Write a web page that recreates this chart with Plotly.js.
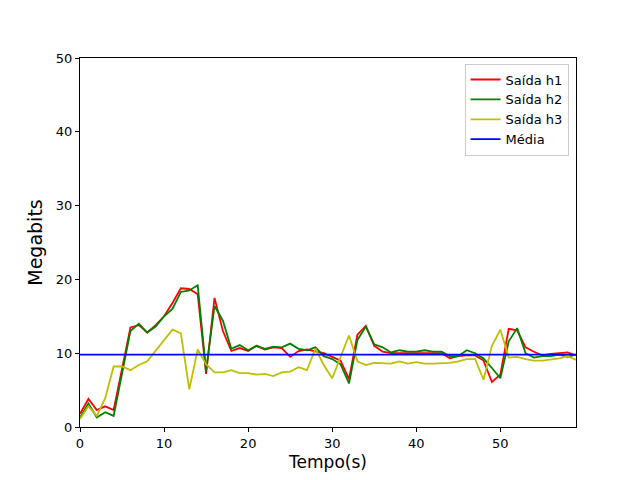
<!DOCTYPE html>
<html>
<head>
<meta charset="utf-8">
<script src="https://cdn.plot.ly/plotly-3.0.1.min.js"></script>
<style>body{margin:0}#grafico{width:640px;height:480px}</style>
</head>
<body>
<div id="grafico"></div>
<script>
const tempo = Array.from({ length: 60 }, (_, i) => i);
const saidaH1 = [1.8,3.8,2.3,2.8,2.3,8,13.5,13.8,12.8,13.8,15,16.8,18.8,18.7,18,7.2,17.5,13,10.3,10.7,10.3,11,10.5,10.8,10.7,9.5,10.3,10.5,10.2,10,9.5,9,6.5,12.5,13.7,11,10.2,10,10,10,10,10,10,10,9.3,9.6,9.7,9.7,9,6.1,7.1,13.3,13.1,10.8,10.2,9.7,9.9,10,10.1,9.7];
const saidaH2 = [1.3,3.2,1.3,2,1.5,7.5,13,14,12.8,13.6,15,16,18.3,18.5,19.2,7.6,16.4,14.4,10.6,11.1,10.4,11,10.6,10.9,10.8,11.3,10.6,10.4,10.8,9.6,9.2,8.5,5.9,11.8,13.6,11.2,10.8,10.1,10.4,10.2,10.2,10.4,10.2,10.2,9.6,9.6,10.4,10,9.3,8,6.6,11.6,13.4,10,9.4,9.6,9.6,9.8,9.5,9.8];
const saidaH3 = [1.1,2.8,1.5,3.9,8.2,8.2,7.7,8.4,8.9,10.3,11.8,13.2,12.7,5.1,10.5,8.5,7.4,7.4,7.7,7.3,7.3,7.1,7.2,6.9,7.4,7.5,8.1,7.7,10.6,8.4,6.6,9.5,12.4,8.9,8.4,8.7,8.6,8.6,8.9,8.6,8.8,8.6,8.6,8.6,8.7,8.9,9.2,9.2,6.4,11,13.2,9.4,9.5,9.2,9,9,9.1,9.3,9.6,9.1];
const media = 9.8;

const trazas = [
  { x: tempo, y: saidaH1, name: 'Saída h1', color: '#ff0000' },
  { x: tempo, y: saidaH2, name: 'Saída h2', color: '#008000' },
  { x: tempo, y: saidaH3, name: 'Saída h3', color: '#bfbf00' },
  { x: [0, 59], y: [media, media], name: 'Média', color: '#0000ff' }
].map(t => ({
  x: t.x, y: t.y, name: t.name, type: 'scatter', mode: 'lines',
  line: { color: t.color, width: 1.8 }
}));

const eixo = {
  showline: true, linecolor: '#000', mirror: true, showgrid: false, zeroline: false,
  ticks: 'outside', ticklen: 4, tickcolor: '#000',
  tickfont: { size: 13, color: '#000' }
};

Plotly.newPlot('grafico', trazas, {
  width: 640, height: 480,
  font: { family: 'DejaVu Sans, sans-serif', color: '#000' },
  paper_bgcolor: '#fff', plot_bgcolor: '#fff',
  margin: { l: 80, r: 64, t: 58, b: 53 },
  xaxis: { ...eixo, range: [0, 59], dtick: 10, title: { text: 'Tempo(s)', font: { size: 17 }, standoff: 6 } },
  yaxis: { ...eixo, range: [0, 50], dtick: 10, title: { text: 'Megabits', font: { size: 19 }, standoff: 8 } },
  showlegend: true,
  legend: {
    x: 0.985, y: 0.985, xanchor: 'right', yanchor: 'top',
    bgcolor: 'rgba(255,255,255,0.8)', bordercolor: '#ccc', borderwidth: 1,
    font: { size: 13 }
  }
}, { displayModeBar: false });
</script>
</body>
</html>
